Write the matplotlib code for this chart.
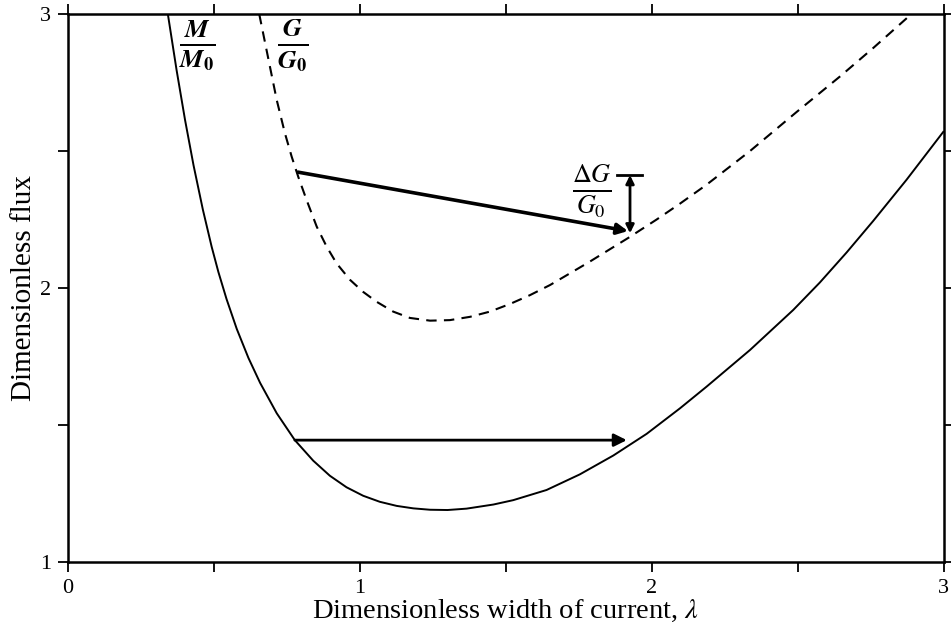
import numpy as np
import matplotlib.pyplot as plt

plt.rcParams['font.family'] = ['Liberation Serif', 'DejaVu Serif']
plt.rcParams['mathtext.fontset'] = 'stix'

# M/M0 curve (solid)
m_lam = [0.342, 0.372, 0.401, 0.430, 0.462, 0.492, 0.515, 0.543, 0.578, 0.618,
         0.658, 0.715, 0.777, 0.840, 0.897, 0.954, 1.011, 1.068, 1.126, 1.183,
         1.240, 1.300, 1.365, 1.457, 1.525, 1.639, 1.753, 1.868, 1.982, 2.096,
         2.187, 2.336, 2.484, 2.575, 2.667, 2.758, 2.872, 2.998]
m_flux = [3.000, 2.795, 2.613, 2.448, 2.286, 2.151, 2.059, 1.960, 1.851, 1.745,
          1.654, 1.543, 1.445, 1.370, 1.315, 1.273, 1.242, 1.220, 1.205, 1.196,
          1.191, 1.190, 1.195, 1.210, 1.226, 1.263, 1.320, 1.389, 1.468, 1.561,
          1.640, 1.774, 1.920, 2.020, 2.130, 2.245, 2.395, 2.570]

# G/G0 curve (dashed)
g_lam = [0.655, 0.680, 0.715, 0.743, 0.766, 0.789, 0.817, 0.852, 0.886, 0.920,
         0.966, 1.011, 1.057, 1.114, 1.171, 1.240, 1.308, 1.377, 1.445, 1.514,
         1.582, 1.651, 1.785, 1.919, 2.016, 2.096, 2.187, 2.336, 2.495, 2.644,
         2.758, 2.873]
g_flux = [3.000, 2.869, 2.686, 2.565, 2.480, 2.405, 2.322, 2.224, 2.151, 2.090,
          2.030, 1.986, 1.950, 1.914, 1.891, 1.881, 1.883, 1.895, 1.914, 1.942,
          1.974, 2.011, 2.095, 2.183, 2.250, 2.308, 2.377, 2.500, 2.642, 2.772,
          2.876, 2.985]

# arrows: (start lam, start flux), (end lam, end flux)
g_arrow = [(0.788, 2.423), (1.918, 2.208)]
m_arrow = [(0.777, 1.445), (1.914, 1.445)]
dg_arrow = [(1.925, 2.412), (1.925, 2.200)]
dg_bar = [1.880, 1.966]

fig = plt.figure(figsize=(9.51, 6.38), dpi=100)
ax = fig.add_axes([0.0715, 0.119, 0.921, 0.859])

ax.plot(m_lam, m_flux, color='black', lw=1.4)
ax.plot(g_lam, g_flux, color='black', lw=1.5, linestyle=(0, (5, 3.5)))

ax.annotate('', xy=g_arrow[1], xytext=g_arrow[0],
            arrowprops=dict(arrowstyle='-|>', color='black', lw=2.6,
                            mutation_scale=16, shrinkA=0, shrinkB=0))
ax.annotate('', xy=m_arrow[1], xytext=m_arrow[0],
            arrowprops=dict(arrowstyle='-|>', color='black', lw=2.0,
                            mutation_scale=19, shrinkA=0, shrinkB=0))
ax.annotate('', xy=dg_arrow[1], xytext=dg_arrow[0],
            arrowprops=dict(arrowstyle='<|-|>', color='black', lw=2.0,
                            mutation_scale=12, shrinkA=0, shrinkB=0))
ax.plot(dg_bar, [dg_arrow[0][1], dg_arrow[0][1]], color='black', lw=2.0)

ax.text(0.442, 2.885, r'$\frac{\mathbfit{M}}{\mathbfit{M}_{\mathbf{0}}}$',
        fontsize=27, ha='center', va='center')
ax.text(0.771, 2.885, r'$\frac{\mathbfit{G}}{\mathbfit{G}_{\mathbf{0}}}$',
        fontsize=27, ha='center', va='center')
ax.text(1.795, 2.355, r'$\frac{\Delta \mathit{G}}{\mathit{G}_{0}}$',
        fontsize=27, ha='center', va='center')

ax.set_xlim(0, 3)
ax.set_ylim(1, 3)
ax.set_xticks([0, 0.5, 1, 1.5, 2, 2.5, 3])
ax.set_xticklabels(['0', '', '1', '', '2', '', '3'])
ax.set_yticks([1, 1.5, 2, 2.5, 3])
ax.set_yticklabels(['1', '', '2', '', '3'])
ax.tick_params(direction='out', top=True, right=True, length=7, width=1.3,
               labelsize=16, pad=5)
for s in ax.spines.values():
    s.set_linewidth(1.8)

ax.set_xlabel('Dimensionless width of current, $\\lambda$', fontsize=20.5, labelpad=0)
ax.set_ylabel('Dimensionless flux', fontsize=21, labelpad=2)

plt.savefig('out.png', dpi=100)
